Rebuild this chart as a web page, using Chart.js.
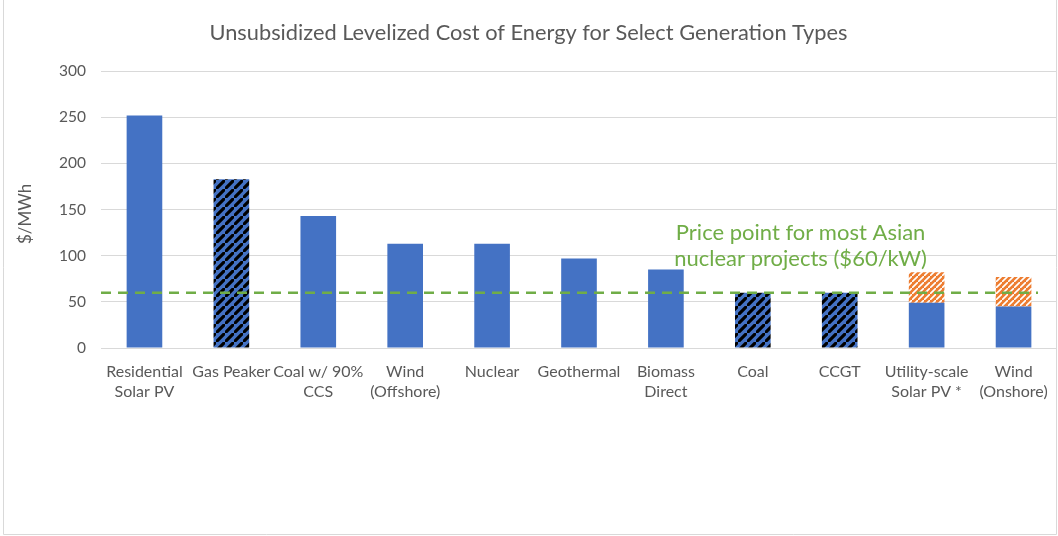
<!DOCTYPE html>
<html>
<head>
<meta charset="utf-8">
<script src="https://cdn.jsdelivr.net/npm/chart.js@4"></script>
<style>
  body { margin: 0; background: #fff; }
</style>
</head>
<body>
<canvas id="lcoeChart" width="1058" height="536"></canvas>
<script>
// categories and values
var categories = [
	["Residential", "Solar PV"], "Gas Peaker", ["Coal w/ 90%", "CCS"], ["Wind", "(Offshore)"],
	"Nuclear", "Geothermal", ["Biomass", "Direct"], "Coal", "CCGT",
	["Utility-scale", "Solar PV *"], ["Wind", "(Onshore)"]
];
var baseCost = [252, 183, 143, 113, 113, 97, 85, 60, 60, 49, 45];
var rangeCost = [0, 0, 0, 0, 0, 0, 0, 0, 0, 33, 32];
var hatched = [false, true, false, false, false, false, false, true, true, false, false];
var priceLine = 60;
var yTicks = { min: 0, max: 300, step: 50 };
var noteLines = ["Price point for most Asian", "nuclear projects ($60/kW)"];

var blue = "#4472C4";
var orange = "#ED7D31";
var green = "#70AD47";
var grey = "#595959";

function stripes(bg, fg, size, lw) {
	var c = document.createElement("canvas");
	c.width = size;
	c.height = size;
	var g = c.getContext("2d");
	g.fillStyle = bg;
	g.fillRect(0, 0, size, size);
	g.strokeStyle = fg;
	g.lineWidth = lw;
	g.beginPath();
	g.moveTo(-size, size * 2); g.lineTo(size * 2, -size);
	g.moveTo(-size * 2, size); g.lineTo(size, -size * 2);
	g.moveTo(0, size * 3); g.lineTo(size * 3, 0);
	g.stroke();
	return g.createPattern(c, "repeat");
}

var blueHatch = stripes(blue, "#000", 9, 3.2);
var orangeHatch = stripes(orange, "#fff", 6, 1.6);

var extras = {
	id: "extras",
	afterDatasetsDraw: function(chart) {
		var ctx = chart.ctx;
		var area = chart.chartArea;
		var y = chart.scales.y;
		var x = chart.scales.x;
		ctx.save();
		// dashed price line
		ctx.strokeStyle = green;
		ctx.lineWidth = 2.5;
		ctx.setLineDash([10, 7]);
		ctx.beginPath();
		ctx.moveTo(area.left, y.getPixelForValue(priceLine));
		ctx.lineTo(area.right - 19, y.getPixelForValue(priceLine));
		ctx.stroke();
		ctx.setLineDash([]);
		// note text
		ctx.fillStyle = green;
		ctx.font = "22px Lato";
		ctx.textAlign = "center";
		ctx.textBaseline = "middle";
		var cx = x.getPixelForValue(7.55);
		ctx.fillText(noteLines[0], cx, y.getPixelForValue(125));
		ctx.fillText(noteLines[1], cx, y.getPixelForValue(97));
		ctx.restore();
	},
	afterDraw: function(chart) {
		var ctx = chart.ctx;
		ctx.save();
		ctx.strokeStyle = "#D9D9D9";
		ctx.lineWidth = 1;
		ctx.beginPath();
		ctx.moveTo(3.5, 0); ctx.lineTo(3.5, 534.5);
		ctx.lineTo(1056.5, 534.5); ctx.lineTo(1056.5, 0);
		ctx.stroke();
		ctx.restore();
	}
};

var ctx = document.getElementById("lcoeChart");

var data = {
	labels: categories,
	datasets: [
		{
			label: "Cost",
			data: baseCost,
			backgroundColor: function(c) { return hatched[c.dataIndex] ? blueHatch : blue; },
			categoryPercentage: 1,
			barPercentage: 0.41
		},
		{
			label: "Range",
			data: rangeCost,
			backgroundColor: orangeHatch,
			categoryPercentage: 1,
			barPercentage: 0.41
		}
	]
};

var options = {
	responsive: false,
	devicePixelRatio: 1,
	animation: false,
	layout: { padding: { left: 0, right: 1, top: 0, bottom: 0 } },
	plugins: {
		title: {
			display: true,
			text: "Unsubsidized Levelized Cost of Energy for Select Generation Types",
			color: grey,
			font: { family: "Lato", size: 21.8, weight: "normal" },
			padding: { top: 20, bottom: 25 }
		},
		legend: { display: false },
		tooltip: { enabled: false }
	},
	scales: {
		x: {
			stacked: true,
			grid: { display: false },
			border: { display: false },
			ticks: {
				color: grey,
				font: { family: "Lato", size: 16, lineHeight: 1.25 },
				padding: 6,
				maxRotation: 0,
				autoSkip: false
			},
			afterFit: function(s) { s.height = 188; }
		},
		y: {
			stacked: true,
			min: yTicks.min,
			max: yTicks.max,
			grid: { color: "#D9D9D9", drawTicks: false },
			border: { display: false },
			ticks: {
				stepSize: yTicks.step,
				color: grey,
				font: { family: "Lato", size: 15.5 },
				padding: 15
			},
			title: {
				display: true,
				text: "$/MWh  ",
				color: grey,
				font: { family: "Lato", size: 17 },
				padding: { top: 15 }
			},
			afterFit: function(s) { s.width = 101; }
		}
	}
};

var chart = new Chart(ctx, {
	type: "bar",
	data: data,
	options: options,
	plugins: [extras]
});
</script>
</body>
</html>
